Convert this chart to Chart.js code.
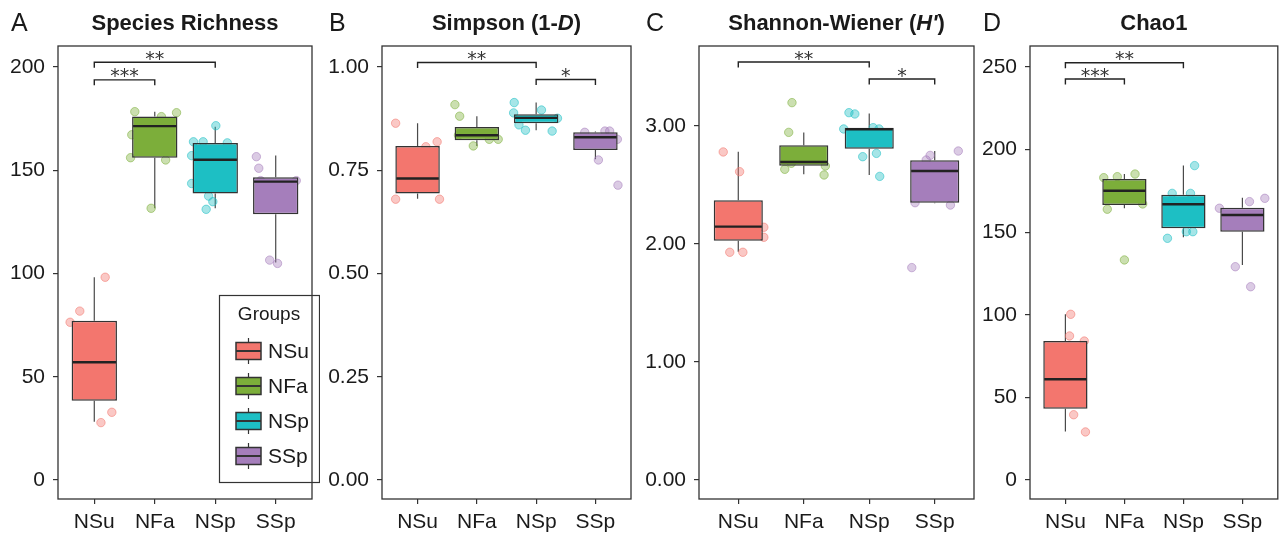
<!DOCTYPE html>
<html>
<head>
<meta charset="utf-8">
<script src="https://cdn.jsdelivr.net/npm/chart.js@4.4.1/dist/chart.umd.min.js"></script>
<style>
  body { margin: 0; background: #fff; }
  #wrap { position: relative; width: 1283px; height: 535px; overflow: hidden; }
  canvas { position: absolute; top: 0; }
</style>
</head>
<body>
<div id="wrap">
  <canvas id="chartA" width="320" height="535" style="left:0"></canvas>
  <canvas id="chartB" width="320" height="535" style="left:320px"></canvas>
  <canvas id="chartC" width="340" height="535" style="left:640px"></canvas>
  <canvas id="chartD" width="303" height="535" style="left:980px"></canvas>
</div>
<script>
const groups = ['NSu', 'NFa', 'NSp', 'SSp'];

// box stats per group: [lower whisker, Q1, median, Q3, upper whisker]
const richnessBox = [[28.2, 38.4, 57.0, 77.1, 98.2], [131.6, 156.1, 171.4, 176.1, 178.4], [131.6, 138.8, 155.1, 163.2, 171.1], [105.4, 128.7, 144.5, 146.6, 157.2]];
const richnessPoints = [[98.2, 81.8, 76.4, 32.8, 27.8], [178.4, 177.9, 176, 167.2, 156.1, 155, 131.6], [171.6, 163.8, 163.8, 163.3, 157.1, 143.6, 137.5, 134.8, 131.1], [156.6, 151, 145, 145, 106.5, 104.9]];
const richnessJitter = [[0.18, -0.24, -0.40, 0.29, 0.11], [-0.33, 0.36, 0.11, -0.38, -0.40, 0.18, -0.06], [0.01, -0.36, -0.20, 0.20, -0.39, -0.39, -0.11, -0.04, -0.15], [-0.32, -0.28, -0.25, 0.34, -0.10, 0.03]];
const richnessSig = [[1, 2, 193.8, '***'], [1, 3, 202.3, '**']];
const richnessTicks = [0, 50, 100, 150, 200];

const simpsonBox = [[0.681, 0.694, 0.730, 0.809, 0.864], [0.809, 0.823, 0.835, 0.855, 0.881], [0.847, 0.864, 0.877, 0.886, 0.914], [0.777, 0.799, 0.830, 0.842, 0.844]];
const simpsonPoints = [[0.864, 0.819, 0.807, 0.680, 0.680], [0.909, 0.881, 0.809, 0.825, 0.825, 0.835], [0.914, 0.889, 0.896, 0.876, 0.860, 0.847, 0.845], [0.842, 0.845, 0.845, 0.825, 0.775, 0.714]];
const simpsonJitter = [[-0.37, 0.33, 0.14, -0.37, 0.37], [-0.37, -0.29, -0.06, 0.21, 0.36, -0.31], [-0.37, -0.38, 0.09, 0.36, -0.29, -0.18, 0.27], [-0.18, 0.16, 0.24, 0.37, 0.05, 0.38]];
const simpsonSig = [[1, 3, 1.011, '**'], [3, 4, 0.970, '*']];
const simpsonTicks = [0, 0.25, 0.5, 0.75, 1];

const shannonBox = [[1.935, 2.028, 2.147, 2.370, 2.782], [2.591, 2.664, 2.695, 2.836, 2.946], [2.585, 2.808, 2.972, 2.986, 3.107], [2.345, 2.350, 2.619, 2.709, 2.788]];
const shannonPoints = [[2.78, 2.613, 2.142, 2.057, 1.93, 1.93], [3.198, 2.946, 2.633, 2.585, 2.661, 2.684], [3.113, 3.102, 2.975, 2.986, 2.975, 2.740, 2.768, 2.573], [2.751, 2.788, 2.712, 2.33, 2.35, 1.80]];
const shannonJitter = [[-0.23, 0.02, 0.39, 0.39, -0.13, 0.07], [-0.18, -0.23, -0.29, 0.31, 0.33, -0.19], [-0.31, -0.22, -0.39, 0.06, 0.15, -0.10, 0.11, 0.16], [-0.07, 0.36, -0.13, 0.24, -0.30, -0.35]];
const shannonSig = [[1, 3, 3.542, '**'], [3, 4, 3.398, '*']];
const shannonTicks = [0, 1, 2, 3];

const chaoBox = [[29.3, 43.2, 61, 84.1, 100.3], [164.5, 166.5, 175.1, 182.2, 185.2], [146.9, 152.4, 166.9, 172.7, 190.3], [130.1, 150.3, 160.4, 164.8, 170.9]];
const chaoPoints = [[100.3, 87.2, 84.1, 39.5, 29.1], [183, 183.6, 185.2, 163.9, 167.1, 133.2], [190.3, 173.5, 173.5, 150.3, 150.3, 146.3], [168.5, 170.5, 164.5, 129.1, 117]];
const chaoJitter = [[0.09, 0.07, 0.32, 0.14, 0.34], [-0.35, -0.12, 0.18, -0.29, 0.31, 0], [0.19, -0.19, 0.12, 0.05, 0.16, -0.27], [0.12, 0.38, -0.39, -0.12, 0.14]];
const chaoSig = [[1, 3, 252.6, '**'], [1, 2, 242.7, '***']];
const chaoTicks = [0, 50, 100, 150, 200, 250];

const colors = ['#F3766E', '#7CAE3A', '#1DBFC4', '#A57EBB'];
const pointFill = ['rgba(243,118,110,0.4)', 'rgba(124,174,58,0.4)', 'rgba(29,191,196,0.4)', 'rgba(165,126,187,0.4)'];
const pointLine = ['rgba(243,118,110,0.55)', 'rgba(124,174,58,0.55)', 'rgba(29,191,196,0.55)', 'rgba(165,126,187,0.55)'];
const fontFamily = "'Liberation Sans', Arial, Helvetica, sans-serif";
const ink = '#1a1a1a';

const boxExtras = {
  id: 'boxExtras',
  beforeDatasetsDraw(chart, args, opts) {
    const { ctx, scales: { x, y } } = chart;
    ctx.save();
    ctx.strokeStyle = '#4a4a4a';
    ctx.lineWidth = 1.2;
    opts.box.forEach((b, i) => {
      const px = x.getPixelForValue(i + 1);
      ctx.beginPath();
      ctx.moveTo(px, y.getPixelForValue(b[0]));
      ctx.lineTo(px, y.getPixelForValue(b[1]));
      ctx.moveTo(px, y.getPixelForValue(b[3]));
      ctx.lineTo(px, y.getPixelForValue(b[4]));
      ctx.stroke();
    });
    ctx.restore();
  },
  afterDatasetsDraw(chart, args, opts) {
    const { ctx, scales: { y } } = chart;
    const bars = chart.getDatasetMeta(0).data;
    ctx.save();
    ctx.strokeStyle = '#222';
    ctx.lineWidth = 2.4;
    opts.box.forEach((b, i) => {
      const bar = bars[i];
      const py = y.getPixelForValue(b[2]);
      ctx.beginPath();
      ctx.moveTo(bar.x - bar.width / 2 + 1, py);
      ctx.lineTo(bar.x + bar.width / 2 - 1, py);
      ctx.stroke();
    });
    ctx.restore();
  },
  afterDraw(chart, args, opts) {
    const { ctx, chartArea: a, scales: { x, y } } = chart;
    ctx.save();
    // panel border
    ctx.strokeStyle = '#333';
    ctx.lineWidth = 1.3;
    ctx.strokeRect(a.left, a.top, a.right - a.left, a.bottom - a.top);

    // significance brackets
    ctx.strokeStyle = '#222';
    ctx.lineWidth = 1.4;
    ctx.fillStyle = '#333';
    ctx.font = "19px 'DejaVu Sans', sans-serif";
    ctx.textAlign = 'center';
    ctx.textBaseline = 'alphabetic';
    opts.sig.forEach(([g1, g2, val, label]) => {
      const x1 = x.getPixelForValue(g1), x2 = x.getPixelForValue(g2);
      const py = y.getPixelForValue(val);
      ctx.beginPath();
      ctx.moveTo(x1, py + 5.5);
      ctx.lineTo(x1, py);
      ctx.lineTo(x2, py);
      ctx.lineTo(x2, py + 5.5);
      ctx.stroke();
      ctx.fillText(label, (x1 + x2) / 2, py + 2.5);
    });

    // panel letter
    ctx.fillStyle = ink;
    ctx.textAlign = 'left';
    ctx.font = '25px ' + fontFamily;
    ctx.fillText(opts.letter, opts.letterX, 31);

    // title with italic parts
    const parts = opts.title.map(p => ({ t: p.t, f: (p.i ? 'italic ' : '') + 'bold 22px ' + fontFamily }));
    let total = 0;
    parts.forEach(p => { ctx.font = p.f; p.w = ctx.measureText(p.t).width; total += p.w; });
    let tx = (a.left + a.right) / 2 - total / 2;
    parts.forEach(p => { ctx.font = p.f; ctx.fillText(p.t, tx, 30); tx += p.w; });

    if (opts.legend) {
      const lx = 219, ly = 295, lw = 100, lh = 187;
      ctx.strokeStyle = '#333';
      ctx.lineWidth = 1.2;
      ctx.strokeRect(lx + 0.5, ly + 0.5, lw, lh);
      ctx.font = '19px ' + fontFamily;
      ctx.textAlign = 'center';
      ctx.fillText('Groups', lx + 50, ly + 25);
      ctx.textAlign = 'left';
      ctx.textBaseline = 'middle';
      ctx.font = '21px ' + fontFamily;
      groups.forEach((g, i) => {
        const cy = ly + 56 + i * 35;
        const kx = lx + 17;
        ctx.strokeStyle = '#333';
        ctx.lineWidth = 1.2;
        ctx.beginPath();
        ctx.moveTo(kx + 12.5, cy - 13);
        ctx.lineTo(kx + 12.5, cy + 13);
        ctx.stroke();
        ctx.fillStyle = colors[i];
        ctx.fillRect(kx, cy - 8.5, 25, 17);
        ctx.lineWidth = 1.5;
        ctx.strokeRect(kx, cy - 8.5, 25, 17);
        ctx.lineWidth = 2;
        ctx.beginPath();
        ctx.moveTo(kx, cy);
        ctx.lineTo(kx + 25, cy);
        ctx.stroke();
        ctx.fillStyle = ink;
        ctx.fillText(g, kx + 32, cy + 1);
      });
    }
    ctx.restore();
  }
};

function makePanel(p) {
  const pts = [], fills = [], lines = [];
  p.points.forEach((vals, gi) => {
    vals.forEach((v, j) => {
      pts.push({ x: gi + 1 + p.jitter[gi][j], y: v });
      fills.push(pointFill[gi]);
      lines.push(pointLine[gi]);
    });
  });
  const tickFont = { family: fontFamily, size: 21 };
  new Chart(document.getElementById(p.id), {
    type: 'scatter',
    data: {
      datasets: [
        {
          type: 'bar',
          data: p.box.map((b, i) => ({ x: i + 1, y: [b[1], b[3]] })),
          backgroundColor: colors,
          borderColor: '#333',
          borderWidth: 1.5,
          borderSkipped: false,
          barPercentage: 0.75,
          categoryPercentage: 1,
          order: 0
        },
        {
          type: 'scatter',
          data: pts,
          pointRadius: 4.2,
          pointBackgroundColor: fills,
          pointBorderColor: lines,
          pointBorderWidth: 1,
          order: 1
        }
      ]
    },
    options: {
      responsive: false,
      animation: false,
      layout: { padding: { top: 46, right: p.padRight, left: 0, bottom: 0 } },
      plugins: {
        legend: { display: false },
        tooltip: { enabled: false },
        boxExtras: { box: p.box, sig: p.sig, letter: p.letter, letterX: p.letterX, title: p.title, legend: !!p.legend }
      },
      scales: {
        x: {
          type: 'linear',
          min: 0.4,
          max: 4.6,
          offset: false,
          afterBuildTicks: s => { s.ticks = groups.map((g, i) => ({ value: i + 1 })); },
          afterFit: s => { s.height = 36; },
          ticks: { callback: v => groups[v - 1], font: tickFont, color: ink, padding: 6, autoSkip: false, maxRotation: 0 },
          grid: { drawOnChartArea: false, tickLength: 5, color: '#333', lineWidth: 1.2, offset: false },
          border: { display: false }
        },
        y: {
          min: p.min,
          max: p.max,
          afterBuildTicks: s => { s.ticks = p.ticks.map(v => ({ value: v })); },
          afterFit: s => { s.width = p.yWidth; },
          ticks: { callback: v => v.toFixed(p.digits), font: tickFont, color: ink, padding: 8 },
          grid: { drawOnChartArea: false, tickLength: 5, color: '#333', lineWidth: 1.2 },
          border: { display: false }
        }
      }
    },
    plugins: [boxExtras]
  });
}

makePanel({ id: 'chartA', box: richnessBox, points: richnessPoints, jitter: richnessJitter, sig: richnessSig, ticks: richnessTicks,
  min: -9.2, max: 210.2, digits: 0, yWidth: 58, padRight: 8, letter: 'A', letterX: 11, title: [{ t: 'Species Richness' }], legend: true });
makePanel({ id: 'chartB', box: simpsonBox, points: simpsonPoints, jitter: simpsonJitter, sig: simpsonSig, ticks: simpsonTicks,
  min: -0.046, max: 1.051, digits: 2, yWidth: 62, padRight: 9, letter: 'B', letterX: 9, title: [{ t: 'Simpson (1-' }, { t: 'D', i: true }, { t: ')' }] });
makePanel({ id: 'chartC', box: shannonBox, points: shannonPoints, jitter: shannonJitter, sig: shannonSig, ticks: shannonTicks,
  min: -0.161, max: 3.678, digits: 2, yWidth: 59, padRight: 6, letter: 'C', letterX: 6, title: [{ t: 'Shannon-Wiener (' }, { t: "H'", i: true }, { t: ')' }] });
makePanel({ id: 'chartD', box: chaoBox, points: chaoPoints, jitter: chaoJitter, sig: chaoSig, ticks: chaoTicks,
  min: -11.5, max: 262.7, digits: 0, yWidth: 50, padRight: 1, letter: 'D', letterX: 3, title: [{ t: 'Chao1' }] });
</script>
</body>
</html>
